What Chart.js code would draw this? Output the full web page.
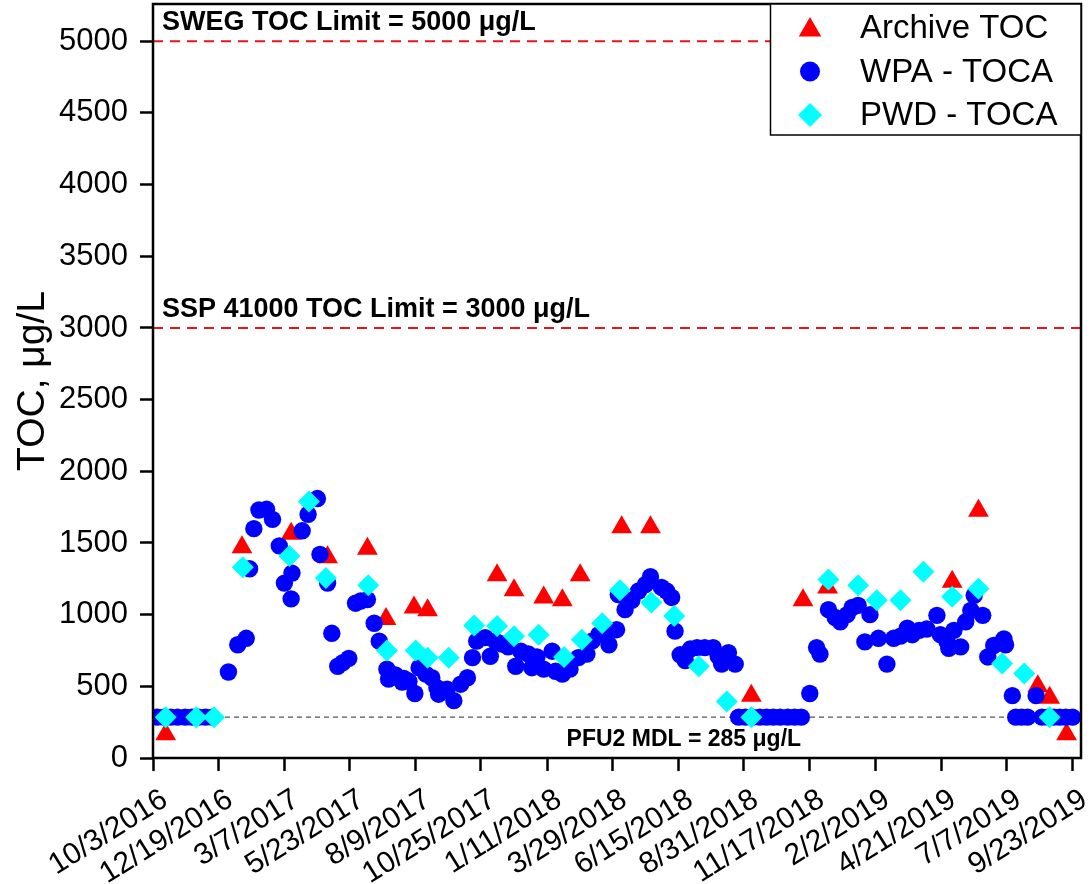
<!DOCTYPE html>
<html>
<head>
<meta charset="utf-8">
<script src="https://cdn.jsdelivr.net/npm/chart.js@4.4.1/dist/chart.umd.min.js"></script>
<style>
html,body{margin:0;padding:0;background:#fff;}
#wrap{width:1091px;height:884px;position:relative;}
canvas{display:block;}
</style>
</head>
<body>
<div id="wrap"><canvas id="c" width="1091" height="884"></canvas></div>
<script>
// ---------------- data ----------------
const tickLabels = ['10/3/2016','12/19/2016','3/7/2017','5/23/2017','8/9/2017','10/25/2017','1/11/2018','3/29/2018','6/15/2018','8/31/2018','11/17/2018','2/2/2019','4/21/2019','7/7/2019','9/23/2019'];
const yTickValues = [0,500,1000,1500,2000,2500,3000,3500,4000,4500,5000];

// x values are days since 10/3/2016
const archiveDays   = [15,105,163,206,253,275,308,324,406,426,461,483,504,553,587,706,767,796,943,974,1044,1058,1078];
const archiveValues = [165,1470,1565,1400,1460,970,1050,1030,1275,1170,1120,1100,1275,1610,1610,435,1100,1190,1230,1725,500,420,165];

const wpaDays = [5,13,21,29,38,46,54,62,70,
  89,100,110,114,119,125,134,141,149,155,163,164,176,183,194,197,206,211,218,224,231,239,245,253,261,267,
  276,278,286,294,296,302,309,314,322,329,335,337,347,355,363,371,377,382,392,398,404,412,419,428,434,443,447,453,461,471,475,483,492,
  502,512,518,526,532,538,547,549,557,565,573,581,587,600,606,612,616,622,628,634,642,651,661,667,671,679,687,
  691,699,707,716,724,732,740,749,757,765,
  775,783,787,797,805,811,819,825,832,840,846,856,866,874,882,890,896,904,913,925,929,937,939,945,953,959,965,969,979,985,992,1004,1006,1014,
  1018,1025,1032,1042,1049,1056,1063,1070,1077,1085];
const wpaValues = [285,285,285,285,285,285,285,285,285,
  600,790,835,1320,1600,1730,1735,1665,1480,1220,1110,1290,1585,1700,1810,1420,1220,870,640,665,695,1080,1095,1105,940,815,
  620,550,580,530,555,535,450,630,585,560,490,445,480,400,515,560,700,815,840,710,815,795,775,640,745,725,630,705,620,745,605,585,620,
  700,725,815,860,865,790,895,1140,1035,1100,1165,1210,1265,1190,1165,1120,885,720,680,760,770,770,770,710,655,735,655,
  285,285,285,285,285,285,285,285,285,285,
  450,770,725,1035,980,950,1000,1050,1065,810,1000,835,655,835,850,905,860,890,900,995,860,810,765,890,775,950,1030,1135,995,705,785,830,790,435,
  285,285,285,435,285,285,285,285,285,285];

const pwdDays   = [15,51,72,106,161,184,204,254,276,310,324,349,379,406,426,455,485,506,530,551,588,615,644,677,706,797,832,854,882,909,943,974,1002,1028,1058];
const pwdValues = [285,285,285,1330,1410,1790,1255,1205,750,750,700,700,925,920,850,860,705,825,940,1170,1085,990,640,395,285,1245,1205,1100,1100,1300,1125,1180,660,590,285];

const limitValues = [5000, 3000];
const limitTexts = ['SWEG TOC Limit = 5000 \u03bcg/L', 'SSP 41000 TOC Limit = 3000 \u03bcg/L'];
const mdlValue = 285;
const mdlText = 'PFU2 MDL = 285 \u03bcg/L';
const seriesNames = ['Archive TOC', 'WPA - TOCA', 'PWD - TOCA'];
const yTitle = 'TOC, \u03bcg/L';
const xMaxDays = 1095;
const yMax = 5260;

// ---------------- helpers ----------------
const FAMILY = '"Liberation Sans", Arial, Helvetica, sans-serif';
function dayOf(label) {
  const p = label.split('/').map(Number);
  return Math.round((Date.UTC(p[2], p[0] - 1, p[1]) - Date.UTC(2016, 9, 3)) / 86400000);
}
const tickDays = tickLabels.map(dayOf);
const pts = (xs, ys) => xs.map((x, i) => ({x: x, y: ys[i]}));
const hline = v => [{x: 0, y: v}, {x: xMaxDays, y: v}];

const COLORS = {archive: '#ff0000', wpa: '#0000ff', pwd: '#00ffff'};

function drawMarker(ctx, style, x, y, r, color) {
  ctx.save();
  ctx.fillStyle = color;
  ctx.beginPath();
  if (style === 'triangle') {
    ctx.moveTo(x, y - r);
    ctx.lineTo(x + r * Math.sin(Math.PI / 3), y + r / 2);
    ctx.lineTo(x - r * Math.sin(Math.PI / 3), y + r / 2);
    ctx.closePath();
  } else if (style === 'circle') {
    ctx.arc(x, y, r, 0, Math.PI * 2);
  } else {
    ctx.moveTo(x, y - r); ctx.lineTo(x + r, y); ctx.lineTo(x, y + r); ctx.lineTo(x - r, y);
    ctx.closePath();
  }
  ctx.fill();
  ctx.restore();
}

const decorPlugin = {
  id: 'decor',
  afterDatasetsDraw(chart) {
    const ctx = chart.ctx, a = chart.chartArea, ys = chart.scales.y;
    ctx.save();
    // frame
    ctx.lineWidth = 2.5;
    ctx.strokeStyle = '#000';
    ctx.strokeRect(a.left, a.top, a.right - a.left, a.bottom - a.top);
    // limit labels
    ctx.fillStyle = '#000';
    ctx.font = 'bold 27px ' + FAMILY;
    ctx.textAlign = 'left';
    ctx.textBaseline = 'alphabetic';
    limitValues.forEach((v, i) => {
      ctx.fillText(limitTexts[i], a.left + 9, ys.getPixelForValue(v) - 11);
    });
    ctx.font = 'bold 23px ' + FAMILY;
    ctx.textAlign = 'center';
    ctx.fillText(mdlText, a.left + (a.right - a.left) * 0.572, ys.getPixelForValue(mdlValue) + 29);
    // legend
    const lx = 770.5, ly = a.top, lw = a.right - lx, lh = 131;
    ctx.fillStyle = '#fff';
    ctx.fillRect(lx, ly, lw, lh);
    ctx.lineWidth = 1.5;
    ctx.strokeStyle = '#000';
    ctx.strokeRect(lx, ly, lw, lh);
    const styles = [['triangle', 13, COLORS.archive], ['circle', 10, COLORS.wpa], ['rectRot', 12, COLORS.pwd]];
    ctx.font = '33px ' + FAMILY;
    ctx.textAlign = 'left';
    ctx.textBaseline = 'middle';
    seriesNames.forEach((name, i) => {
      const cy = ly + 24 + i * 43.5;
      drawMarker(ctx, styles[i][0], 810, cy + (i === 0 ? 2 : 0), styles[i][1], styles[i][2]);
      ctx.fillStyle = '#000';
      ctx.fillText(name, 860, cy + 1);
    });
    ctx.restore();
  }
};

// ---------------- chart ----------------
new Chart(document.getElementById('c'), {
  type: 'scatter',
  data: {
    datasets: [
      {label: seriesNames[0], data: pts(archiveDays, archiveValues), pointStyle: 'triangle', pointRadius: 12,
       backgroundColor: COLORS.archive, borderColor: COLORS.archive, borderWidth: 0, order: 3},
      {label: seriesNames[1], data: pts(wpaDays, wpaValues), pointStyle: 'circle', pointRadius: 8.7,
       backgroundColor: COLORS.wpa, borderColor: COLORS.wpa, borderWidth: 0, order: 2},
      {label: seriesNames[2], data: pts(pwdDays, pwdValues), pointStyle: 'rectRot', pointRadius: 11,
       backgroundColor: COLORS.pwd, borderColor: COLORS.pwd, borderWidth: 0, order: 1},
      {label: 'limit1', data: hline(limitValues[0]), showLine: true, pointRadius: 0, borderColor: '#e8141c',
       borderWidth: 2, borderDash: [10, 7], order: 5},
      {label: 'limit2', data: hline(limitValues[1]), showLine: true, pointRadius: 0, borderColor: '#e8141c',
       borderWidth: 2, borderDash: [10, 7], order: 5},
      {label: 'mdl', data: hline(mdlValue), showLine: true, pointRadius: 0, borderColor: '#555',
       borderWidth: 1.3, borderDash: [5, 4], order: 6}
    ]
  },
  options: {
    responsive: false,
    animation: false,
    events: [],
    devicePixelRatio: 1,
    layout: {autoPadding: false, padding: {top: 4, right: 10, bottom: 0, left: 0}},
    plugins: {legend: {display: false}, tooltip: {enabled: false}},
    scales: {
      x: {
        type: 'linear', min: 0, max: xMaxDays,
        afterBuildTicks: s => { s.ticks = tickDays.map(v => ({value: v})); },
        afterFit: s => { s.height = 126; s.paddingLeft = 0; s.paddingRight = 0; },
        ticks: {autoSkip: false, minRotation: 32, maxRotation: 32, padding: 11, labelOffset: 12, color: '#000',
                font: {family: FAMILY, size: 30}, callback: (v, i) => tickLabels[i]},
        grid: {display: true, drawOnChartArea: false, drawTicks: true, tickLength: 13, tickWidth: 2.5, tickColor: '#000'},
        border: {display: false}
      },
      y: {
        type: 'linear', min: 0, max: yMax,
        afterBuildTicks: s => { s.ticks = yTickValues.map(v => ({value: v})); },
        afterFit: s => { s.width = 153; s.paddingTop = 0; s.paddingBottom = 0; },
        ticks: {padding: 12, color: '#000', font: {family: FAMILY, size: 31}, callback: v => String(v)},
        grid: {display: true, drawOnChartArea: false, drawTicks: true, tickLength: 13, tickWidth: 2.5, tickColor: '#000'},
        border: {display: false},
        title: {display: true, text: yTitle, color: '#000', font: {family: FAMILY, size: 39}, padding: {top: 10, bottom: 0}}
      }
    }
  },
  plugins: [decorPlugin]
});
</script>
</body>
</html>
